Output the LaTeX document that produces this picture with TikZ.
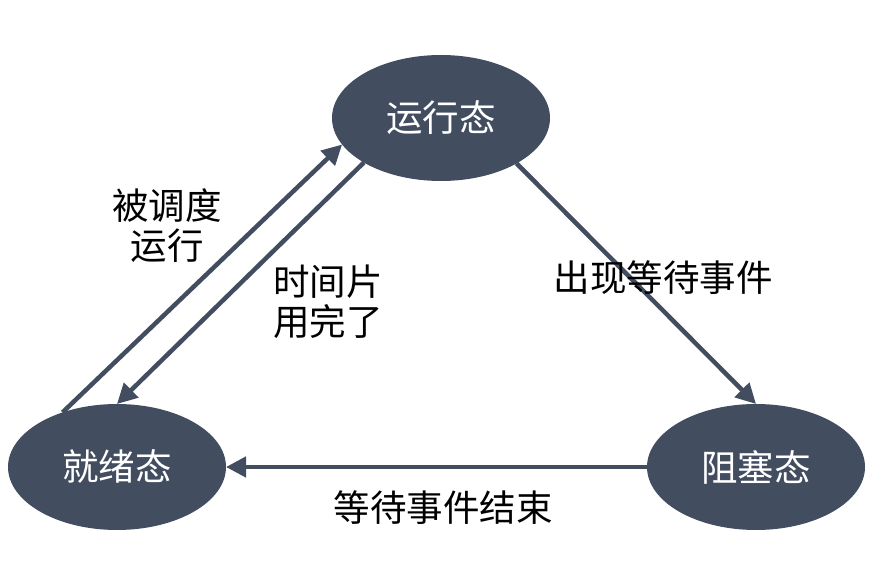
\documentclass[tikz,border=0pt]{standalone}
\usepackage{fontspec}
\setmainfont{Noto Sans CJK SC}
\usetikzlibrary{shapes.geometric,arrows.meta}
\definecolor{slate}{HTML}{434D60}
\tikzset{
  state/.style={ellipse, fill=slate, text=white, minimum width=218pt, minimum height=126pt, inner sep=0pt, outer sep=0pt, font=\fontsize{36.5}{41}\selectfont},
  conn/.style={draw=slate, line width=4.5pt, -{Triangle[length=20pt,width=20pt]}, shorten >=0pt},
  lbl/.style={align=center, font=\fontsize{36.5}{40}\selectfont, text=black, inner sep=0pt}
}
\begin{document}
\begin{tikzpicture}[x=1pt,y=1pt]
\useasboundingbox (0,0) rectangle (889,560);
\node[state] (run) at (441,442) {运行态};
\node[state] (ready) at (117,93) {就绪态};
\node[state] (block) at (756,93) {阻塞态};
\draw[conn] (ready.135.5) -- (run.195);
\draw[conn] (run.210.6) -- (ready.90);
\draw[conn] (run.329.7) -- (block.90);
\draw[conn] (block.180) -- (ready.0);
\node[lbl] (l1) at (167,334) {被调度\\运行};
\node[lbl] (l2) at (328,258) {时间片\\用完了};
\node[lbl] (l3) at (663,282) {出现等待事件};
\node[lbl] (l4) at (443,52) {等待事件结束};
\end{tikzpicture}
\end{document}
